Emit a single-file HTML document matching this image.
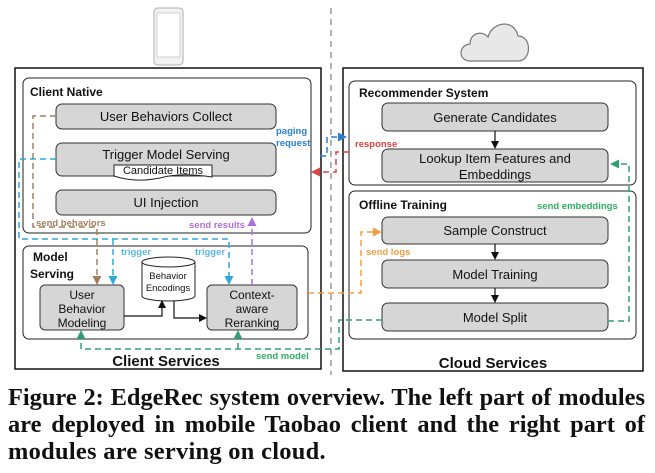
<!DOCTYPE html>
<html><head><meta charset="utf-8"><style>
html,body{margin:0;padding:0;background:#fff;width:655px;height:473px;overflow:hidden}
svg text{font-family:"Liberation Sans",sans-serif}
.cap{position:absolute;left:8px;top:384px;width:637px;font-family:"Liberation Serif",serif;font-weight:bold;font-size:24.4px;line-height:27px;color:#111}
.cap div{text-align:justify;text-align-last:justify;white-space:nowrap;height:27px}
.cap div.l{text-align-last:left;letter-spacing:0.3px}
</style></head><body>
<svg width="655" height="473" style="position:absolute;left:0;top:0">
<defs>
<marker id="ak" markerWidth="8" markerHeight="8" refX="6" refY="4" orient="auto" markerUnits="userSpaceOnUse"><path d="M0,0 L8,4 L0,8 z" fill="#111"/></marker>
<marker id="ab" markerWidth="9" markerHeight="9" refX="7" refY="4.5" orient="auto" markerUnits="userSpaceOnUse"><path d="M0,0 L9,4.5 L0,9 z" fill="#2a80d0"/></marker>
<marker id="ac" markerWidth="9" markerHeight="9" refX="7" refY="4.5" orient="auto" markerUnits="userSpaceOnUse"><path d="M0,0 L9,4.5 L0,9 z" fill="#30a8d8"/></marker>
<marker id="ar" markerWidth="9" markerHeight="9" refX="7" refY="4.5" orient="auto" markerUnits="userSpaceOnUse"><path d="M0,0 L9,4.5 L0,9 z" fill="#e04040"/></marker>
<marker id="abr" markerWidth="9" markerHeight="9" refX="7" refY="4.5" orient="auto" markerUnits="userSpaceOnUse"><path d="M0,0 L9,4.5 L0,9 z" fill="#a08060"/></marker>
<marker id="ap" markerWidth="9" markerHeight="9" refX="7" refY="4.5" orient="auto" markerUnits="userSpaceOnUse"><path d="M0,0 L9,4.5 L0,9 z" fill="#b070d8"/></marker>
<marker id="ag" markerWidth="9" markerHeight="9" refX="7" refY="4.5" orient="auto" markerUnits="userSpaceOnUse"><path d="M0,0 L9,4.5 L0,9 z" fill="#30a070"/></marker>
<marker id="ao" markerWidth="9" markerHeight="9" refX="7" refY="4.5" orient="auto" markerUnits="userSpaceOnUse"><path d="M0,0 L9,4.5 L0,9 z" fill="#f0a040"/></marker>
</defs>
<rect x="154" y="8" width="29" height="57" rx="4" fill="#f2f2f2" stroke="#c8c8c8" stroke-width="1.5"/>
<rect x="157" y="13" width="23" height="44" fill="#fff" stroke="#d0d0d0"/>
<path d="M470,61 C458,61 458,45 470,44 C470,33 482,30 488,37 C492,22 514,18 518,36 C532,36 532,61 518,61 Z" fill="#e8e8e8" stroke="#777" stroke-width="1.2"/>
<line x1="331" y1="8" x2="331" y2="375" stroke="#888" stroke-width="1.3" stroke-dasharray="6,5"/>
<rect x="15" y="68" width="306" height="301" fill="none" stroke="#111" stroke-width="1.5"/>
<rect x="343" y="68" width="300" height="303" fill="none" stroke="#111" stroke-width="1.5"/>
<rect x="23" y="78" width="288" height="155" rx="6" fill="none" stroke="#222"/>
<rect x="23" y="246" width="285" height="93" rx="6" fill="none" stroke="#222"/>
<rect x="349" y="81" width="287" height="104" rx="6" fill="none" stroke="#222"/>
<rect x="349" y="191" width="287" height="148" rx="6" fill="none" stroke="#222"/>
<g font-weight="bold" font-size="12" fill="#111">
<text x="30" y="96">Client Native</text>
<text x="33" y="261">Model</text><text x="30" y="278">Serving</text>
<text x="359" y="97">Recommender System</text>
<text x="359" y="209">Offline Training</text>
</g>
<g font-weight="bold" font-size="15" fill="#111" text-anchor="middle">
<text x="166" y="366">Client Services</text>
<text x="493" y="368">Cloud Services</text>
</g>
<g fill="#d6d6d6" stroke="#333" stroke-width="1">
<rect x="56" y="104" width="220" height="25" rx="6"/>
<rect x="56" y="143" width="220" height="33" rx="6"/>
<rect x="56" y="190" width="220" height="25" rx="6"/>
<rect x="40" y="285" width="84" height="45" rx="5"/>
<rect x="207" y="285" width="90" height="45" rx="5"/>
<rect x="382" y="103" width="226" height="28" rx="6"/>
<rect x="382" y="149" width="226" height="33" rx="6"/>
<rect x="382" y="217" width="226" height="27" rx="6"/>
<rect x="382" y="260" width="226" height="28" rx="6"/>
<rect x="382" y="303" width="226" height="28" rx="6"/>
</g>
<path d="M114,165 H212 V177 Q180,172 160,178 Q135,183 114,176 Z" fill="#fff" stroke="#222"/>
<path d="M142,262 V296 A26.5,5 0 0 0 195,296 V262" fill="#fff" stroke="#222"/>
<ellipse cx="168.5" cy="262" rx="26.5" ry="5" fill="#fff" stroke="#222"/>
<g font-size="13" fill="#111" text-anchor="middle">
<text x="166" y="121">User Behaviors Collect</text>
<text x="166" y="159">Trigger Model Serving</text>
<text x="163" y="174" font-size="11">Candidate Items</text>
<text x="166" y="207">UI Injection</text>
<text x="82" y="299" font-size="12">User</text><text x="82" y="313" font-size="12">Behavior</text><text x="82" y="327" font-size="12">Modeling</text>
<text x="252" y="299" font-size="12">Context-</text><text x="252" y="313" font-size="12">aware</text><text x="252" y="327" font-size="12">Reranking</text>
<text x="168" y="279" font-size="9.5">Behavior</text><text x="168" y="291" font-size="9.5">Encodings</text>
<text x="495" y="122">Generate Candidates</text>
<text x="495" y="163">Lookup Item Features and</text><text x="495" y="179">Embeddings</text>
<text x="495" y="235">Sample Construct</text>
<text x="495" y="279">Model Training</text>
<text x="495" y="322">Model Split</text>
</g>
<g stroke="#111" stroke-width="1.2" fill="none">
<line x1="495" y1="131" x2="495" y2="147" marker-end="url(#ak)"/>
<line x1="495" y1="244" x2="495" y2="258" marker-end="url(#ak)"/>
<line x1="495" y1="288" x2="495" y2="301" marker-end="url(#ak)"/>
<path d="M124,316 H162 V302" marker-end="url(#ak)"/>
<path d="M174,301 V318 H205" marker-end="url(#ak)"/>
</g>
<g fill="none" stroke-width="1.5" stroke-dasharray="6,4">
<path d="M56,116 H33 V227 H97 V283" stroke="#a08060" marker-end="url(#abr)"/>
<path d="M56,159 H19 V239 H229 V283" stroke="#30a8d8" marker-end="url(#ac)"/>
<path d="M113,239 V283" stroke="#30a8d8" marker-end="url(#ac)"/>
<path d="M252,285 V219" stroke="#b070d8" marker-end="url(#ap)"/>
<path d="M320,156 H327 V137 H345" stroke="#2a80d0" marker-end="url(#ab)"/>
<path d="M349,152 H336 V172 H313" stroke="#e04040" marker-end="url(#ar)"/>
<path d="M308,293 H361 V232 H380" stroke="#f0a040" marker-end="url(#ao)"/>
<path d="M382,320 H339 V349 H81 V332" stroke="#30a070" marker-end="url(#ag)"/>
<path d="M238,349 V332" stroke="#30a070" marker-end="url(#ag)"/>
<path d="M608,321 H629 V164 H612" stroke="#30a070" marker-end="url(#ag)"/>
</g>
<g font-size="9.5" font-weight="bold">
<text x="36" y="226" fill="#a08060">send behaviors</text>
<text x="121" y="255" fill="#5ab8e0">trigger</text>
<text x="195" y="255" fill="#5ab8e0">trigger</text>
<text x="189" y="228" fill="#b070d8">send results</text>
<text x="276" y="134" fill="#2a80d0">paging</text>
<text x="276" y="146" fill="#2a80d0">request</text>
<text x="355" y="147" fill="#e04040">response</text>
<text x="366" y="255" fill="#f0a040">send logs</text>
<text x="256" y="359" fill="#30b060">send model</text>
<text x="537" y="209" fill="#30b060">send embeddings</text>
</g>
</svg>
<div class="cap">
<div>Figure 2: EdgeRec system overview. The left part of modules</div>
<div>are deployed in mobile Taobao client and the right part of</div>
<div class="l">modules are serving on cloud.</div>
</div>
</body></html>
